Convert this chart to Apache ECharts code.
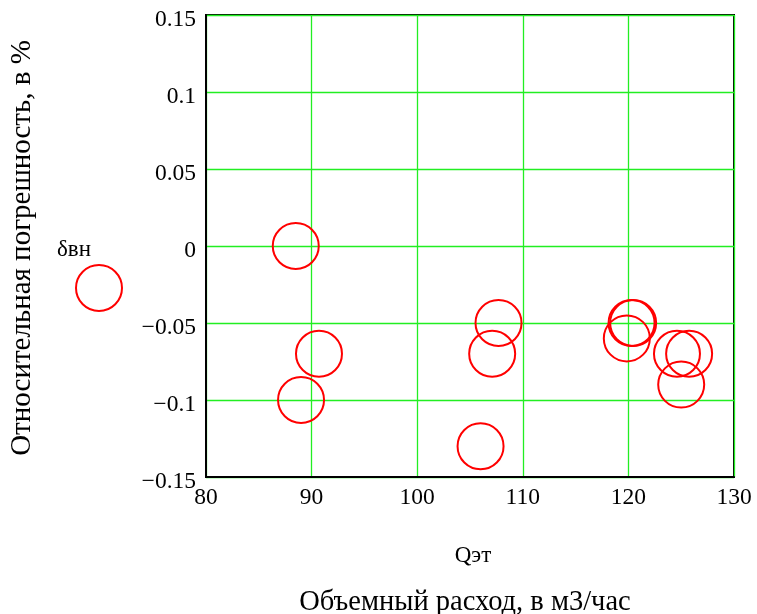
<!DOCTYPE html>
<html>
<head>
<meta charset="utf-8">
<script src="https://cdn.jsdelivr.net/npm/echarts@6/dist/echarts.min.js"></script>
<style>html,body{margin:0;padding:0;background:#fff}#c{width:757px;height:614px}</style>
</head>
<body>
<div id="c"></div>
<script>
// Data
const seriesName = "δвн";
const flowQ = [88.5, 90.7, 89.0, 106.0, 107.7, 107.1, 119.85, 120.3, 120.45, 124.6, 125.75, 125.0];
const relErr = [0.00, -0.07, -0.10, -0.13, -0.05, -0.07, -0.06, -0.05, -0.05, -0.07, -0.07, -0.09];
const yTickLabels = ["\u22120.15", "\u22120.1", "\u22120.05", "0", "0.05", "0.1", "0.15"];
const xTickLabels = ["80", "90", "100", "110", "120", "130"];
const yTitle = "Относительная погрешность, в %";
const xTitle1 = "Qэт";
const xTitle2 = "Объемный расход, в м3/час";

const FONT = "'Liberation Serif','Times New Roman',serif";
const chart = echarts.init(document.getElementById('c'), null, {renderer: 'canvas'});
const pts = flowQ.map((q, i) => [q, relErr[i]]);

chart.setOption({
  animation: false,
  backgroundColor: '#fff',
  grid: {left: 206, right: 23, top: 15, bottom: 137, show: true, borderColor: '#000', borderWidth: 2, backgroundColor: 'transparent', containLabel: false},
  xAxis: {
    type: 'value', min: 80, max: 130, interval: 10,
    axisLine: {show: true, onZero: false, lineStyle: {color: '#000', width: 2}},
    axisTick: {show: false},
    splitLine: {show: true, lineStyle: {color: '#22ee22', width: 1.3}},
    axisLabel: {
      color: '#000', fontFamily: FONT, fontSize: 23.5, margin: 9,
      formatter: v => xTickLabels[Math.round((v - 80) / 10)] ?? ''
    }
  },
  yAxis: {
    type: 'value', min: -0.15, max: 0.15, interval: 0.05,
    axisLine: {show: true, onZero: false, lineStyle: {color: '#000', width: 2}},
    axisTick: {show: false},
    splitLine: {show: true, lineStyle: {color: '#22ee22', width: 1.3}},
    axisLabel: {
      color: '#000', fontFamily: FONT, fontSize: 23.5, margin: 10,
      verticalAlign: 'top', lineHeight: 9,
      formatter: v => yTickLabels[Math.round((v + 0.15) / 0.05)] ?? ''
    }
  },
  legend: {
    show: true, orient: 'vertical', left: 70, top: 259,
    itemWidth: 46, itemHeight: 46, icon: 'circle',
    itemStyle: {color: 'transparent', borderColor: '#ff0000', borderWidth: 2},
    formatter: () => '',
    textStyle: {fontSize: 1},
    data: [seriesName]
  },
  series: [{
    name: seriesName,
    type: 'scatter',
    symbol: 'circle',
    symbolSize: 46,
    itemStyle: {color: 'transparent', borderColor: '#ff0000', borderWidth: 2, opacity: 1},
    emphasis: {disabled: true},
    data: pts
  }],
  graphic: [
    {type: 'text', x: 74, y: 250,
     style: {text: seriesName, font: '23px ' + FONT, fill: '#000', align: 'center', verticalAlign: 'middle'}},
    {type: 'text', x: 22, y: 248, rotation: Math.PI / 2,
     style: {text: yTitle, font: '29px ' + FONT, fill: '#000', align: 'center', verticalAlign: 'middle'}},
    {type: 'text', x: 473, y: 556,
     style: {text: xTitle1, font: '23px ' + FONT, fill: '#000', align: 'center', verticalAlign: 'middle'}},
    {type: 'text', x: 465, y: 603,
     style: {text: xTitle2, font: '28.5px ' + FONT, fill: '#000', align: 'center', verticalAlign: 'middle'}}
  ]
});
</script>
</body>
</html>
